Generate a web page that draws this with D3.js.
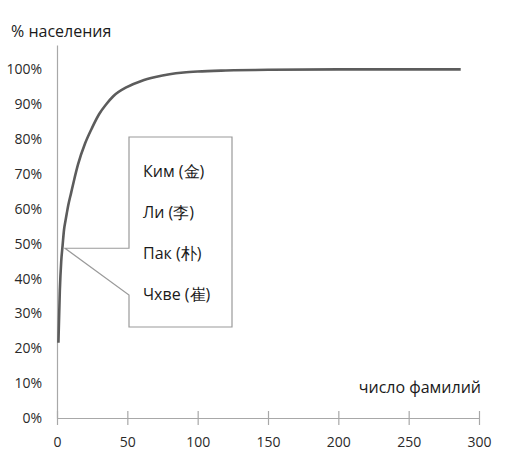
<!DOCTYPE html>
<html>
<head>
<meta charset="utf-8">
<script src="https://cdn.jsdelivr.net/npm/d3@7"></script>
<style>
  body { margin: 0; background: #fff; }
  svg { display: block; }
  text { font-family: "Open Sans", "Liberation Sans", sans-serif; }
</style>
</head>
<body>
<svg id="chart" width="507" height="452"></svg>
<script>
// Cumulative share of population covered by the N most common surnames
const surnameCount = [1, 2, 3, 4, 5, 6, 7, 8, 10, 12, 15, 20, 25, 30, 35, 40, 50, 60, 70, 80, 90, 100, 120, 150, 200, 250, 287];
const populationPct = [21.6, 36.4, 44.9, 49.6, 54.0, 56.5, 58.8, 61.0, 64.5, 68.0, 72.8, 78.8, 83.3, 87.2, 90.0, 92.3, 95.0, 96.7, 97.8, 98.6, 99.1, 99.4, 99.7, 99.9, 100, 100, 100];

const xTicks = [0, 50, 100, 150, 200, 250, 300];
const yTicks = [0, 10, 20, 30, 40, 50, 60, 70, 80, 90, 100];

const calloutNames = ["Ким (金)", "Ли (李)", "Пак (朴)", "Чхве (崔)"];
const calloutAnchor = { n: 5.7, pct: 48.7 };

const yTitle = "% населения";
const xTitle = "число фамилий";

const svg = d3.select("#chart");

const x = d3.scaleLinear().domain([0, 300]).range([57, 479]);
const y = d3.scaleLinear().domain([0, 107]).range([418, 45]);

// y axis: plain line with percent labels, no tick marks
const yAxis = svg.append("g").attr("transform", `translate(${x(0)},0)`)
  .call(d3.axisLeft(y).tickValues(yTicks).tickSize(0).tickPadding(15)
    .tickFormat(d => d + "%"));
yAxis.select(".domain").attr("stroke", "#a8a8a8").attr("stroke-width", 1.2);
yAxis.selectAll("text").attr("font-size", 14).attr("fill", "#2a2a2a");

// x axis: ticks crossing the axis line
const xAxis = svg.append("g").attr("transform", `translate(0,${y(0)})`)
  .call(d3.axisBottom(x).tickValues(xTicks).tickSize(7).tickSizeOuter(0).tickPadding(12));
xAxis.select(".domain").attr("stroke", "#a8a8a8").attr("stroke-width", 1.2);
xAxis.selectAll(".tick line").attr("y1", -7).attr("y2", 7).attr("stroke", "#a8a8a8").attr("stroke-width", 1.2);
xAxis.selectAll("text").attr("font-size", 14).attr("fill", "#2a2a2a");

// axis titles
svg.append("text").attr("x", 11).attr("y", 37).attr("font-size", 16).attr("fill", "#1a1a1a").text(yTitle);
svg.append("text").attr("x", 481).attr("y", 393).attr("text-anchor", "end")
  .attr("font-size", 16).attr("fill", "#1a1a1a").text(xTitle);

// cumulative curve
const line = d3.line().x((d, i) => x(surnameCount[i])).y(d => y(d)).curve(d3.curveMonotoneX);
svg.append("path").datum(populationPct)
  .attr("d", line)
  .attr("fill", "none")
  .attr("stroke", "#5c5c5c")
  .attr("stroke-width", 2.6)
  .attr("stroke-linejoin", "round");

// callout box pointing at the top-four surnames
const bx0 = 129, bx1 = 232, by0 = 137, by1 = 327;
const ax = x(calloutAnchor.n), ay = y(calloutAnchor.pct);
const callout = d3.path();
callout.moveTo(bx0, by0);
callout.lineTo(bx1, by0);
callout.lineTo(bx1, by1);
callout.lineTo(bx0, by1);
callout.lineTo(bx0, 295);
callout.lineTo(ax, ay);
callout.lineTo(bx0, ay);
callout.closePath();
svg.append("path").attr("d", callout.toString())
  .attr("fill", "#fff").attr("stroke", "#9a9a9a").attr("stroke-width", 1.2);

svg.append("g").selectAll("text").data(calloutNames).join("text")
  .attr("x", 143)
  .attr("y", (d, i) => 177 + i * 41)
  .attr("font-size", 16)
  .attr("fill", "#1a1a1a")
  .text(d => d);
</script>
</body>
</html>
